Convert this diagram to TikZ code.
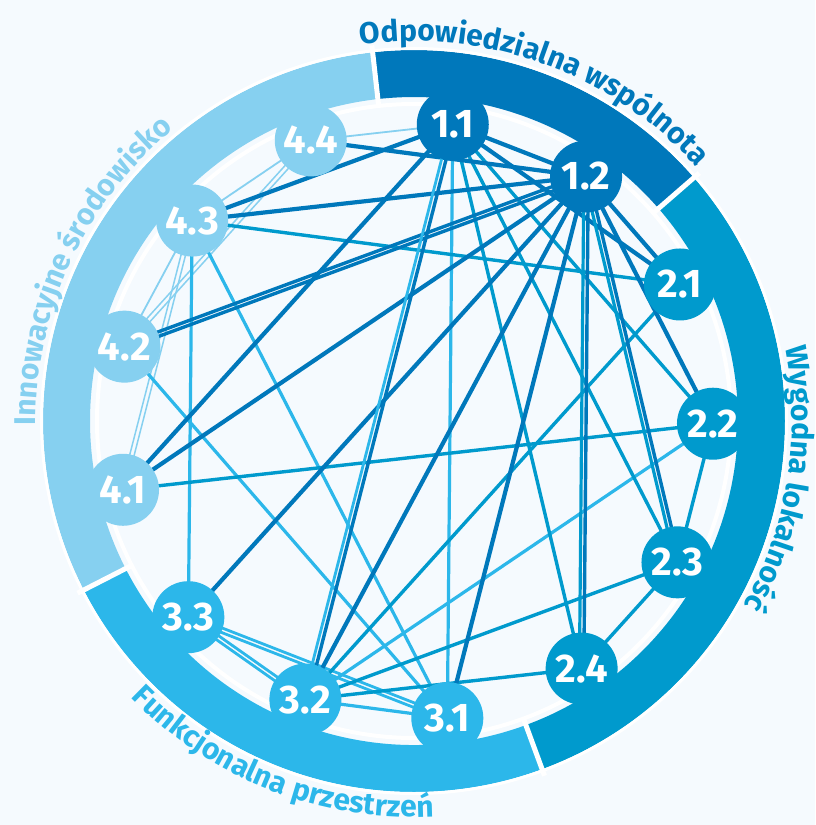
\documentclass[tikz,border=0pt]{standalone}
\usepackage{fontspec}
\setmainfont{Fira Sans}
\usetikzlibrary{calc,decorations.text}
\definecolor{cA}{RGB}{0,120,187}
\definecolor{cB}{RGB}{0,154,205}
\definecolor{cC}{RGB}{44,183,234}
\definecolor{cD}{RGB}{134,208,240}
\definecolor{bgc}{RGB}{245,250,254}
\pgfdeclarelayer{back}
\pgfsetlayers{back,main}
\newcommand\pairline[4]{%
  \draw[#3] ($(#1)!2.2pt!90:(#2)$) -- ($(#2)!2.2pt!-90:(#1)$);
  \draw[#4] ($(#1)!2.2pt!-90:(#2)$) -- ($(#2)!2.2pt!90:(#1)$);}
\begin{document}
\begin{tikzpicture}[x=1pt,y=1pt,
  nd/.style={circle, minimum size=72pt, inner sep=0pt, text=white, font=\bfseries\fontsize{40}{40}\selectfont},
  eA/.style={draw=cA, line width=4.2pt},
  eB/.style={draw=cB, line width=3.4pt},
  eC/.style={draw=cC, line width=3.2pt},
  eD/.style={draw=cD, line width=1.8pt},
  pA/.style={draw=cA, line width=3.4pt},
  pB/.style={draw=cB, line width=3.2pt},
  pC/.style={draw=cC, line width=2.8pt},
  pD/.style={draw=cD, line width=1.5pt},
  gap/.style={draw=white, line width=5pt},
  lbl/.style={decorate, decoration={text along path, text align=center}},
]
\useasboundingbox (0,0) rectangle (815,-825);
\begin{pgfonlayer}{back}
\fill[bgc] (0,0) rectangle (815,-825);
\end{pgfonlayer}
\begin{scope}[shift={(414pt,-421pt)}]
\begin{pgfonlayer}{back}
% ring segments
\fill[cA] (96.4:371pt) arc[start angle=96.4, end angle=41.0, radius=371pt] -- (41.0:324pt) arc[start angle=41.0, end angle=96.4, radius=324pt] -- cycle;
\fill[cB] (41.0:371pt) arc[start angle=41.0, end angle=-69.8, radius=371pt] -- (-69.8:324pt) arc[start angle=-69.8, end angle=41.0, radius=324pt] -- cycle;
\fill[cC] (-69.8:371pt) arc[start angle=-69.8, end angle=-152.9, radius=371pt] -- (-152.9:324pt) arc[start angle=-152.9, end angle=-69.8, radius=324pt] -- cycle;
\fill[cD] (-152.9:371pt) arc[start angle=-152.9, end angle=-263.6, radius=371pt] -- (-263.6:324pt) arc[start angle=-263.6, end angle=-152.9, radius=324pt] -- cycle;
\draw[white, line width=3pt] (0,0) circle[radius=372.5pt];
\draw[white, line width=4pt] (0,0) circle[radius=317pt];
\draw[gap] (96.4:318pt) -- (96.4:378pt);
\draw[gap] (41.0:318pt) -- (41.0:378pt);
\draw[gap] (-69.8:318pt) -- (-69.8:378pt);
\draw[gap] (-152.9:318pt) -- (-152.9:378pt);
\end{pgfonlayer}
% labels
\path[lbl, decoration={text color=cA, text={|\bfseries\fontsize{30}{36}\selectfont|Odpowiedzialna wspólnota}}] (100:380pt) arc[start angle=100, end angle=40, radius=380pt];
\path[lbl, decoration={text color=cB, text={|\bfseries\fontsize{30}{36}\selectfont|Wygodna lokalność}}] (21:378pt) arc[start angle=21, end angle=-39, radius=378pt];
\path[lbl, decoration={text color=cC, text={|\bfseries\fontsize{30}{36}\selectfont|Funkcjonalna przestrzeń}}] (-141.4:396pt) arc[start angle=-141.4, end angle=-81.4, radius=396pt];
\path[lbl, decoration={text color=cD, text={|\bfseries\fontsize{30}{36}\selectfont|Innowacyjne środowisko}}] (185:378pt) arc[start angle=185, end angle=125, radius=378pt];
% nodes
\node[nd, fill=cA] (n11) at (82.55:299pt) {1.1};
\node[nd, fill=cA] (n12) at (54.86:299pt) {1.2};
\node[nd, fill=cB] (n21) at (27.17:299pt) {2.1};
\node[nd, fill=cB] (n22) at (-0.52:299pt) {2.2};
\node[nd, fill=cB] (n23) at (-28.21:299pt) {2.3};
\node[nd, fill=cB] (n24) at (-55.9:299pt) {2.4};
\node[nd, fill=cC] (n31) at (-83.6:299pt) {3.1};
\node[nd, fill=cC] (n32) at (-111.3:299pt) {3.2};
\node[nd, fill=cC] (n33) at (-139.0:299pt) {3.3};
\node[nd, fill=cD] (n41) at (-166.7:299pt) {4.1};
\node[nd, fill=cD] (n42) at (-194.4:299pt) {4.2};
\node[nd, fill=cD] (n43) at (-222.1:299pt) {4.3};
\node[nd, fill=cD] (n44) at (-249.8:299pt) {4.4};
% edges
\begin{pgfonlayer}{back}
% light D
\path[eD] (n44.center) -- (n11.center);
\path[eD] (n44.center) -- (n43.center);
\path[eD] (n43.center) -- (n42.center);
\pairline{n44}{n42}{pD}{pD}
\pairline{n43}{n41}{pD}{pD}
% light C
\path[eC] (n11.center) -- (n31.center);
\path[eC] (n43.center) -- (n33.center);
\path[eC] (n43.center) -- (n31.center);
\path[eC] (n42.center) -- (n31.center);
\path[eC] (n22.center) -- (n32.center);
\path[eC] (n32.center) -- (n31.center);
\pairline{n33}{n32}{pC}{pC}
\pairline{n33}{n31}{pC}{pC}
% medium B
\path[eB] (n11.center) -- (n22.center);
\path[eB] (n11.center) -- (n23.center);
\path[eB] (n11.center) -- (n24.center);
\path[eB] (n43.center) -- (n21.center);
\path[eB] (n41.center) -- (n22.center);
\path[eB] (n21.center) -- (n32.center);
\path[eB] (n22.center) -- (n23.center);
\path[eB] (n23.center) -- (n24.center);
\path[eB] (n23.center) -- (n32.center);
\path[eB] (n24.center) -- (n32.center);
% dark A
\path[eA] (n11.center) -- (n12.center);
\path[eA] (n11.center) -- (n43.center);
\path[eA] (n11.center) -- (n41.center);
\path[eA] (n11.center) -- (n21.center);
\path[eA] (n12.center) -- (n44.center);
\path[eA] (n12.center) -- (n43.center);
\path[eA] (n12.center) -- (n41.center);
\path[eA] (n12.center) -- (n33.center);
\path[eA] (n12.center) -- (n32.center);
\path[eA] (n12.center) -- (n31.center);
\path[eA] (n12.center) -- (n22.center);
\path[eA] (n12.center) -- (n21.center);
\pairline{n12}{n42}{pA}{pA}
\pairline{n12}{n24}{pA}{pB}
\pairline{n12}{n23}{pA}{pB}
\pairline{n11}{n32}{pA}{pC}
\end{pgfonlayer}
\end{scope}
\end{tikzpicture}
\end{document}
